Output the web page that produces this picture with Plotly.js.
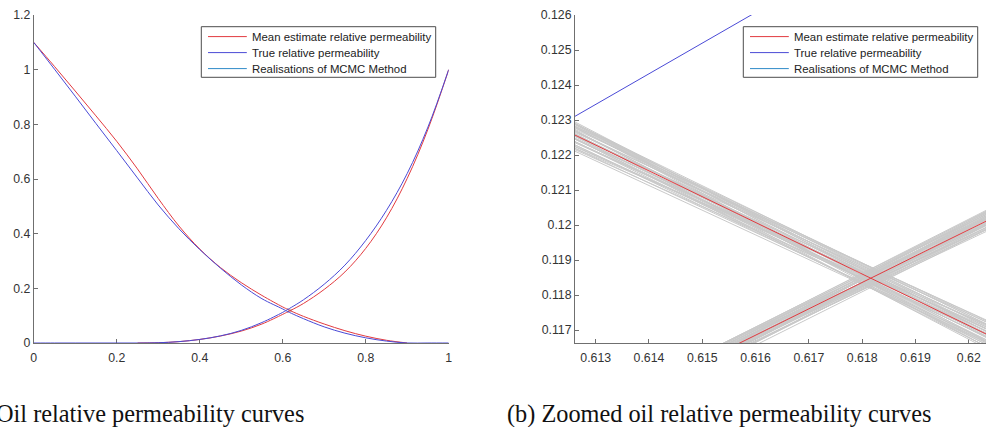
<!DOCTYPE html>
<html>
<head>
<meta charset="utf-8">
<script src="https://cdn.plot.ly/plotly-3.0.1.min.js"></script>
<style>
  html, body { margin: 0; padding: 0; background: #fff; overflow: hidden; }
  #fig { width: 986px; height: 427px; }
</style>
</head>
<body>
<div id="fig"></div>
<script>
// Water saturation grid shared by the oil (kro) and water (krw) relative permeability curves
const sw = [0, 0.05, 0.10, 0.15, 0.20, 0.25, 0.30, 0.35, 0.40, 0.45, 0.50, 0.55, 0.60,
            0.612, 0.621, 0.65, 0.70, 0.75, 0.80, 0.85, 0.90, 0.95, 1.00];

// True relative permeability
const kroTrue = [1.100, 1.002, 0.903, 0.803, 0.704, 0.604, 0.505, 0.418, 0.342, 0.274, 0.213, 0.162, 0.1245,
                 0.1150, 0.1085, 0.0890, 0.0590, 0.0360, 0.0190, 0.0070, 0, 0, 0];
const krwTrue = [0, 0, 0, 0, 0, 0, 0.001, 0.005, 0.013, 0.026, 0.046, 0.075, 0.1121,
                 0.12257, 0.13045, 0.158, 0.215, 0.285, 0.375, 0.485, 0.620, 0.790, 1.000];

// Mean estimate over the MCMC realisations
const kroMean = [1.100, 1.012, 0.922, 0.831, 0.738, 0.637, 0.529, 0.428, 0.344, 0.276, 0.221, 0.174, 0.1319,
                 0.12302, 0.11639, 0.0975, 0.0695, 0.0450, 0.0250, 0.0100, 0.0, null, null];
const krwMean = [null, null, null, null, null, 0, 0.001, 0.005, 0.013, 0.0255, 0.0435, 0.0695, 0.1048,
                 0.11384, 0.12062, 0.1445, 0.196, 0.260, 0.346, 0.458, 0.602, 0.782, 1.000];

// Individual MCMC realisations around the crossing point (values at sw = 0.612 and sw = 0.621)
const realSw = [0.612, 0.621];
const kroRealStart = [0.12343, 0.12337, 0.12332, 0.12327, 0.12322, 0.12317, 0.12312, 0.12307, 0.12302,
                      0.12297, 0.12292, 0.12287, 0.12282, 0.12277, 0.12272, 0.12267, 0.12262, 0.12257,
                      0.12254, 0.12340, 0.12330, 0.12320, 0.12310, 0.12294, 0.12284, 0.12274, 0.12324,
                      0.12314, 0.12300, 0.12335, 0.12305, 0.12290, 0.12328, 0.12264, 0.12318, 0.12280,
                      0.12338, 0.12259, 0.12299, 0.12325];
const kroRealEnd   = [0.11629, 0.11644, 0.11659, 0.11674, 0.11669, 0.11679, 0.11664, 0.11682, 0.11654,
                      0.11677, 0.11649, 0.11669, 0.11639, 0.11659, 0.11634, 0.11651, 0.11624, 0.11644,
                      0.11619, 0.11614, 0.11604, 0.11599, 0.11594, 0.11601, 0.11609, 0.11614, 0.11647,
                      0.11627, 0.11617, 0.11667, 0.11642, 0.11631, 0.11653, 0.11664, 0.11611, 0.11657,
                      0.11597, 0.11672, 0.11622, 0.11636];
const krwRealStart = [0.11414, 0.11409, 0.11404, 0.11399, 0.11394, 0.11389, 0.11384, 0.11379, 0.11374,
                      0.11369, 0.11364, 0.11359, 0.11354, 0.11412, 0.11402, 0.11392, 0.11382, 0.11372,
                      0.11362, 0.11356, 0.11406, 0.11396, 0.11386, 0.11376, 0.11366, 0.11398, 0.11380,
                      0.11410, 0.11358, 0.11390, 0.11370, 0.11400, 0.11352, 0.11416, 0.11378, 0.11394,
                      0.11361, 0.11407, 0.11388, 0.11373];
const krwRealEnd   = [0.12057, 0.12072, 0.12090, 0.12094, 0.12082, 0.12092, 0.12074, 0.12087, 0.12067,
                      0.12080, 0.12060, 0.12070, 0.12052, 0.12047, 0.12040, 0.12034, 0.12030, 0.12037,
                      0.12044, 0.12056, 0.12064, 0.12054, 0.12077, 0.12048, 0.12084, 0.12068, 0.12059,
                      0.12080, 0.12076, 0.12042, 0.12062, 0.12086, 0.12038, 0.12066, 0.12090, 0.12050,
                      0.12085, 0.12036, 0.12071, 0.12055];

// Axis ticks
const fullTicksX = [0, 0.2, 0.4, 0.6, 0.8, 1];
const fullLabelsX = ['0', '0.2', '0.4', '0.6', '0.8', '1'];
const fullTicksY = [0, 0.2, 0.4, 0.6, 0.8, 1, 1.2];
const fullLabelsY = ['0', '0.2', '0.4', '0.6', '0.8', '1', '1.2'];
const zoomTicksX = [0.613, 0.614, 0.615, 0.616, 0.617, 0.618, 0.619, 0.620];
const zoomLabelsX = ['0.613', '0.614', '0.615', '0.616', '0.617', '0.618', '0.619', '0.62'];
const zoomTicksY = [0.117, 0.118, 0.119, 0.120, 0.121, 0.122, 0.123, 0.124, 0.125, 0.126];
const zoomLabelsY = ['0.117', '0.118', '0.119', '0.12', '0.121', '0.122', '0.123', '0.124', '0.125', '0.126'];

const legendNames = ['Mean estimate relative permeability', 'True relative permeability', 'Realisations of MCMC Method'];
const captions = ['(a) Oil relative permeability curves', '(b) Zoomed oil relative permeability curves'];

// Colours
const RED = '#e23a3f';
const BLUE = '#4a4ad6';
const TEAL = '#2f8ac8';
const GREY = '#c9c9c9';
const AXIS = '#6f6f6f';
const legendColors = [RED, BLUE, TEAL];

// Join the realisations into one polyline each, separated by gaps
function realisationPath(startVals, endVals) {
  const x = [], y = [];
  for (let i = 0; i < startVals.length; i++) {
    x.push(realSw[0], realSw[1], null);
    y.push(startVals[i], endVals[i], null);
  }
  return {x, y};
}
const kroReal = realisationPath(kroRealStart, kroRealEnd);
const krwReal = realisationPath(krwRealStart, krwRealEnd);

function panelTraces(xa, ya, shape) {
  const common = {type: 'scatter', mode: 'lines', xaxis: xa, yaxis: ya, hoverinfo: 'skip', showlegend: false};
  return [
    Object.assign({}, common, {x: kroReal.x, y: kroReal.y, name: legendNames[2], line: {color: GREY, width: 1}}),
    Object.assign({}, common, {x: krwReal.x, y: krwReal.y, name: legendNames[2], line: {color: GREY, width: 1}}),
    Object.assign({}, common, {x: sw, y: kroMean, name: legendNames[0], line: {color: RED, width: 1, shape: shape}, connectgaps: false}),
    Object.assign({}, common, {x: sw, y: krwMean, name: legendNames[0], line: {color: RED, width: 1, shape: shape}, connectgaps: false}),
    Object.assign({}, common, {x: sw, y: kroTrue, name: legendNames[1], line: {color: BLUE, width: 1, shape: shape}}),
    Object.assign({}, common, {x: sw, y: krwTrue, name: legendNames[1], line: {color: BLUE, width: 1, shape: shape}})
  ];
}

const data = [].concat(
  panelTraces('x', 'y', 'spline'),
  panelTraces('x2', 'y2', 'linear')
);

const W = 986, H = 427;
const px = v => v / W;
const py = v => 1 - v / H;

const tickFont = {family: 'Liberation Sans, Arial, sans-serif', size: 12.3, color: '#333333'};
function axis(extra) {
  return Object.assign({
    showgrid: false, zeroline: false, showline: true, linecolor: AXIS, linewidth: 1,
    ticks: 'inside', ticklen: 4, tickwidth: 1, tickcolor: AXIS, tickfont: tickFont,
    tickmode: 'array', layer: 'below traces', fixedrange: true, automargin: false
  }, extra);
}

// Boxed legends (one per panel): frame, line samples and labels
const legendFont = {family: 'Liberation Sans, Arial, sans-serif', size: 11.4, color: '#222222'};
const shapes = [];
const annotations = [];
function addLegend(left) {
  const top = 26.7, bottom = 77.3, width = 234.4;
  shapes.push({type: 'rect', xref: 'paper', yref: 'paper',
    x0: px(left), x1: px(left + width), y0: py(bottom), y1: py(top),
    line: {color: '#4d4d4d', width: 1}, fillcolor: '#ffffff', layer: 'above'});
  legendNames.forEach((name, i) => {
    const rowY = 36.6 + i * 16;
    shapes.push({type: 'line', xref: 'paper', yref: 'paper',
      x0: px(left + 6.7), x1: px(left + 45.5), y0: py(rowY), y1: py(rowY),
      line: {color: legendColors[i], width: 1}, layer: 'above'});
    annotations.push({xref: 'paper', yref: 'paper', x: px(left + 49.5), y: py(rowY),
      xanchor: 'left', yanchor: 'middle', text: name, showarrow: false, font: legendFont,
      borderpad: 0});
  });
}
addLegend(201.3);
addLegend(743.3);

// Sub-figure captions
const captionFont = {family: 'Liberation Serif, Times New Roman, serif', size: 24.3, color: '#111111'};
annotations.push(
  {xref: 'paper', yref: 'paper', x: px(306), xanchor: 'right', y: py(414), yanchor: 'middle',
   text: captions[0], showarrow: false, font: captionFont},
  {xref: 'paper', yref: 'paper', x: px(505), xanchor: 'left', y: py(414), yanchor: 'middle',
   text: captions[1], showarrow: false, font: captionFont}
);

const yDomain = [py(343), py(15)];
const layout = {
  width: W, height: H,
  margin: {l: 0, r: 0, t: 0, b: 0, pad: 0},
  paper_bgcolor: '#ffffff', plot_bgcolor: '#ffffff',
  showlegend: false,
  xaxis: axis({domain: [px(33.7), px(448.7)], range: [0, 1], tickvals: fullTicksX, ticktext: fullLabelsX,
               anchor: 'y', ticklabelstandoff: 3}),
  yaxis: axis({domain: yDomain, range: [0, 1.2], tickvals: fullTicksY, ticktext: fullLabelsY, anchor: 'x'}),
  xaxis2: axis({domain: [px(575), 1], range: [0.612612, 0.620323], tickvals: zoomTicksX, ticktext: zoomLabelsX,
                anchor: 'y2', ticklabelstandoff: 3}),
  yaxis2: axis({domain: yDomain, range: [0.11663, 0.126], tickvals: zoomTicksY, ticktext: zoomLabelsY, anchor: 'x2'}),
  shapes: shapes,
  annotations: annotations
};

Plotly.newPlot('fig', data, layout, {staticPlot: true, displayModeBar: false});
</script>
</body>
</html>
